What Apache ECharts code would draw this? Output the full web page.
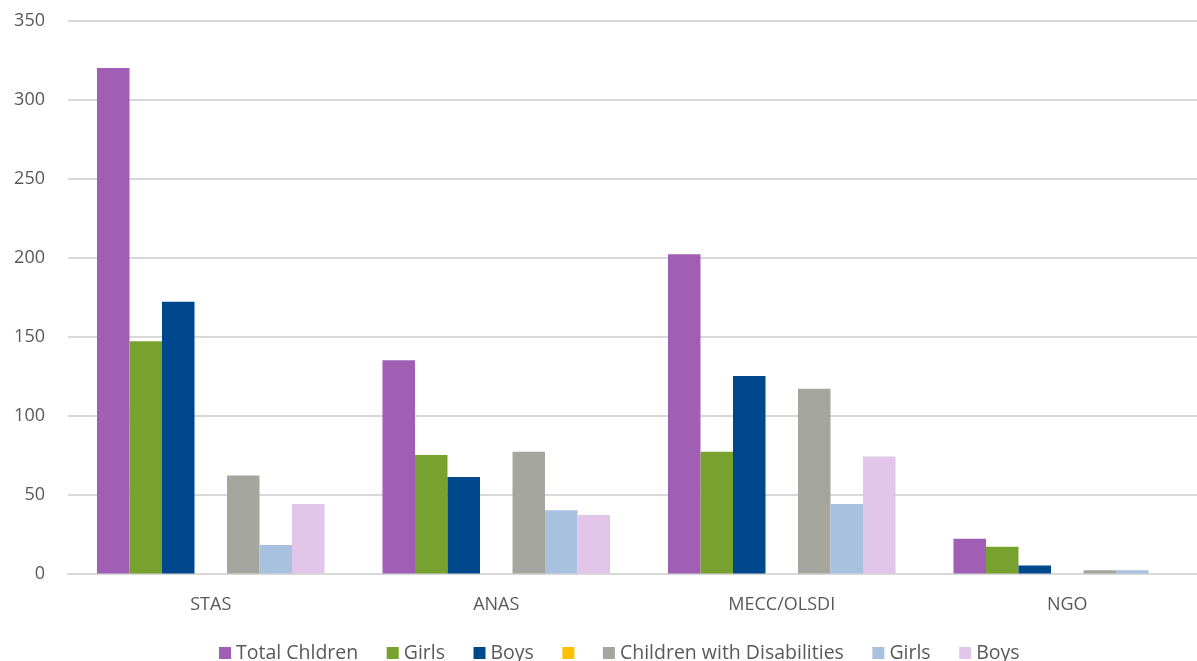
<!DOCTYPE html>
<html>
<head>
<meta charset="utf-8">
<script src="https://cdn.jsdelivr.net/npm/echarts@6/dist/echarts.min.js"></script>
<style>
  html, body { margin: 0; padding: 0; background: #fff; overflow: hidden; }
  /* the drawing surface is a little wider than the window, so the last band runs off the right edge */
  #chart { width: 1210px; height: 661px; }
</style>
</head>
<body>
<div id="chart"></div>
<script>
// Children reached, by implementing body
const categories = ['STAS', 'ANAS', 'MECC/OLSDI', 'NGO'];

const totalChildren      = [320, 135, 202, 22];
const girls              = [147, 75, 77, 17];
const boys               = [172, 61, 125, 5];
const unlabelled         = [0, 0, 0, 0];
const childrenDisability = [62, 77, 117, 2];
const girlsDisability    = [18, 40, 44, 2];
const boysDisability     = [44, 37, 74, 0];

const yTicks = { min: 0, max: 350, interval: 50 };

// Legend text shown for each series (two pairs share the same wording)
const legendLabels = ['Total Chldren', 'Girls', 'Boys', '', 'Children with Disabilities', 'Girls', 'Boys'];
const seriesKeys = ['total', 'girls', 'boys', 'blank', 'cwd', 'cwdGirls', 'cwdBoys'];
const seriesValues = [totalChildren, girls, boys, unlabelled, childrenDisability, girlsDisability, boysDisability];
const colors = ['#A05EB5', '#78A22F', '#00488D', '#FFC000', '#A5A79E', '#A8C1DF', '#E1C6EA'];

const labelByKey = {};
seriesKeys.forEach((k, i) => { labelByKey[k] = legendLabels[i]; });

const chart = echarts.init(document.getElementById('chart'), null, { renderer: 'canvas' });

chart.setOption({
  animation: false,
  backgroundColor: '#ffffff',
  textStyle: { fontFamily: 'Open Sans' },
  grid: { left: 68, right: 0, top: 20.5, bottom: 87.5, containLabel: false },
  legend: {
    data: seriesKeys,
    bottom: -7,
    left: 214,
    itemWidth: 12,
    itemHeight: 12,
    itemGap: 28.5,
    icon: 'rect',
    formatter: name => labelByKey[name],
    textStyle: { fontSize: 19.5, color: '#595959', fontFamily: 'Open Sans' }
  },
  xAxis: {
    type: 'category',
    data: categories,
    axisLine: { lineStyle: { color: '#D9D9D9', width: 2 } },
    axisTick: { show: false },
    axisLabel: { color: '#595959', fontSize: 18, margin: 22, fontFamily: 'Open Sans' }
  },
  yAxis: {
    type: 'value',
    min: yTicks.min,
    max: yTicks.max,
    interval: yTicks.interval,
    axisLine: { show: false },
    axisTick: { show: false },
    axisLabel: { color: '#595959', fontSize: 18, margin: 23, fontFamily: 'Open Sans' },
    splitLine: { lineStyle: { color: '#D9D9D9', width: 2 } }
  },
  series: seriesKeys.map((k, i) => ({
    name: k,
    type: 'bar',
    data: seriesValues[i],
    itemStyle: { color: colors[i] },
    barGap: '0%',
    barCategoryGap: '20.3%'
  }))
});
</script>
</body>
</html>
